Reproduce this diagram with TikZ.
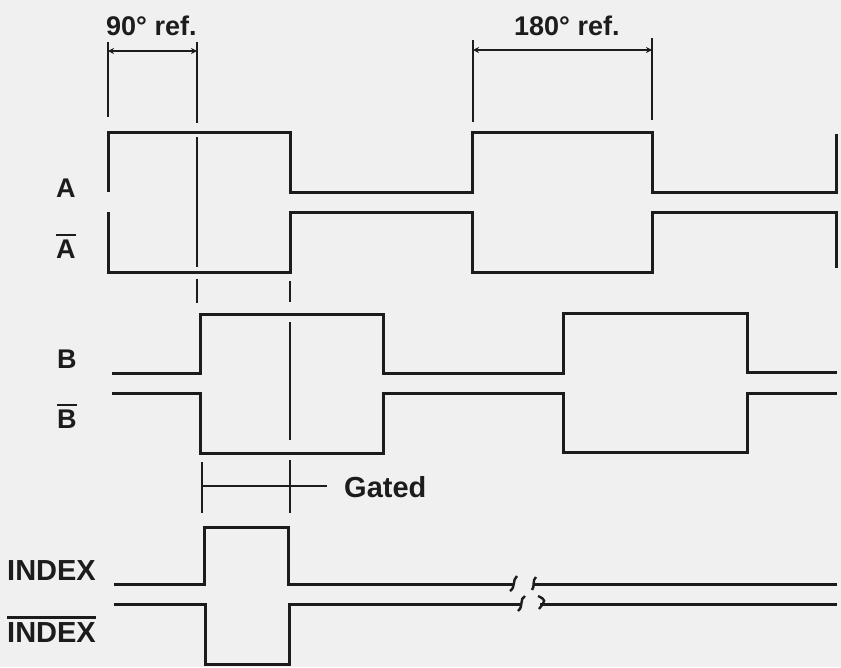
\documentclass[tikz,border=0pt]{standalone}
\usepackage{fontspec}
\setmainfont{Liberation Sans}
\usetikzlibrary{arrows.meta}
\definecolor{paper}{HTML}{F0F0F0}
\definecolor{ink}{HTML}{1C1C1C}
\newcommand\ovbar[1]{\vbox{\hrule height 2.2pt\kern 3.5pt\hbox{#1}}}
\begin{document}
\begin{tikzpicture}[x=1pt,y=-1pt,
  wave/.style={draw=ink,line width=3pt,line join=miter},
  refline/.style={draw=ink,line width=2.8pt},
  dimline/.style={draw=ink,line width=2.2pt,{Stealth[length=6pt,width=6pt]}-{Stealth[length=6pt,width=6pt]}},
  brk/.style={draw=ink,line width=2.4pt},
  lbl/.style={inner sep=0pt,anchor=base west,font=\fontsize{27}{30}\selectfont\bfseries,text=ink}]
\useasboundingbox (0,0) rectangle (841,667);
\fill[paper] (0,0) rectangle (841,667);

% labels
\node[lbl] (t90) at (106,35) {90° ref.};
\node[lbl] (t180) at (514,35) {180° ref.};
\node[lbl] (lA) at (56,197) {A};
\node[lbl] (lAb) at (56,258) {\ovbar{A}};
\node[lbl] (lB) at (57,368) {B};
\node[lbl] (lBb) at (57,428) {\ovbar{B}};
\node[lbl,font=\fontsize{29}{32}\selectfont\bfseries] (lI) at (7,580) {INDEX};
\node[lbl,font=\fontsize{29}{32}\selectfont\bfseries] (lIb) at (7,642) {\ovbar{INDEX}};
\node[lbl,font=\fontsize{29}{32}\selectfont\bfseries] (lG) at (344,497) {Gated};

% reference dimension lines
\draw[refline] (108,42) -- (108,117);
\draw[refline] (197,42) -- (197,123);
\draw[dimline] (108,51) -- (197,51);
\draw[refline] (473,40) -- (473,122);
\draw[refline] (652,38) -- (652,120);
\draw[dimline] (473,50) -- (652,50);

% vertical marker lines
\draw[refline] (197,137) -- (197,267);
\draw[refline] (197,279) -- (197,303);
\draw[refline] (290,281) -- (290,302);
\draw[refline] (290,322) -- (290,440);
\draw[refline] (290,460) -- (290,513);
\draw[refline] (202,462) -- (202,513);
\draw[refline] (202,486) -- (327,486);

% A and A-bar
\draw[wave] (108,192) -- (108,132) -- (290,132) -- (290,192) -- (472,192) -- (472,132)
  -- (652,132) -- (652,192) -- (836,192) -- (836,134);
\draw[wave] (108,212) -- (108,272) -- (290,272) -- (290,212) -- (472,212) -- (472,272)
  -- (652,272) -- (652,212) -- (836,212) -- (836,268);

% B and B-bar
\draw[wave] (112,373) -- (200,373) -- (200,314) -- (383,314) -- (383,373) -- (563,373)
  -- (563,313) -- (747,313) -- (747,372) -- (837,372);
\draw[wave] (112,393) -- (200,393) -- (200,453) -- (383,453) -- (383,393) -- (563,393)
  -- (563,452) -- (747,452) -- (747,393) -- (837,393);

% INDEX and INDEX-bar
\draw[wave] (114,584) -- (204,584) -- (204,527) -- (288,527) -- (288,584) -- (513,584);
\draw[wave] (533,584) -- (837,584);
\draw[wave] (114,604) -- (205,604) -- (205,664) -- (289,664) -- (289,604) -- (520,604);
\draw[wave] (540,604) -- (837,604);

% break marks
\draw[brk] (517,576) .. controls (512,580) and (516,587) .. (510,591);
\draw[brk] (536,577) .. controls (532,580) and (535,587) .. (532,590);
\draw[brk] (525,596) .. controls (519,599) and (524,606) .. (518,611);
\draw[brk] (538,596) .. controls (546,600) .. (539,609);
\end{tikzpicture}
\end{document}
